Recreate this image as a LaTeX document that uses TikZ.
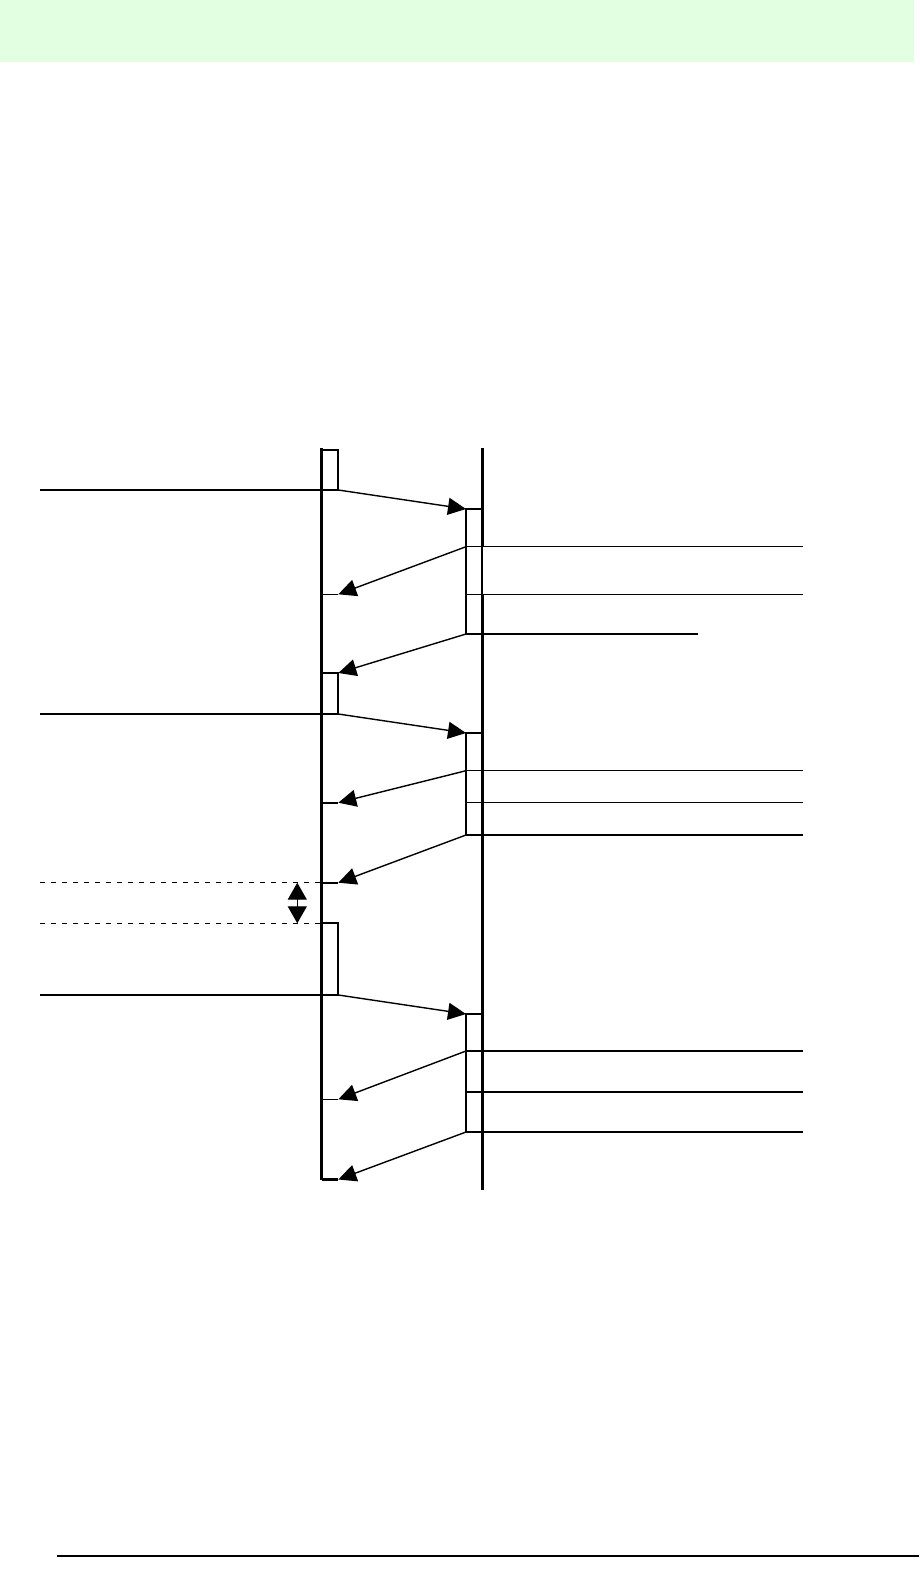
\documentclass[tikz,border=0pt]{standalone}
\usetikzlibrary{arrows.meta}
\definecolor{band}{RGB}{226,255,226}
\begin{document}
\begin{tikzpicture}[x=1pt,y=-1pt,
  thinln/.style={line width=1.4pt},
  lifeln/.style={line width=3pt},
  actbox/.style={draw,line width=1.8pt,fill=white},
  msg/.style={line width=1.4pt,-{Triangle[length=18pt,width=17pt]}},
  gapln/.style={line width=1.3pt,dash pattern=on 5pt off 6pt},
  gaparrow/.style={line width=1.3pt,{Triangle[length=17pt,width=19pt]}-{Triangle[length=17pt,width=19pt]}}]
\useasboundingbox (0,0) rectangle (919,1583);
\fill[band] (0,0) rectangle (914,62);
\coordinate (footL) at (57,1556);
\coordinate (footR) at (919,1556);
\draw[thinln] (footL) -- (footR);

% left activation boxes
\draw[actbox] (321.7,450) rectangle (338.3,490);
\draw[actbox] (321.7,673) rectangle (338.3,714);
\draw[actbox] (321.7,923.3) rectangle (338.3,995);
% right activation boxes
\draw[actbox] (466,509) rectangle (482,634);
\draw[actbox] (466,733) rectangle (482,835);
\draw[actbox] (466,1014) rectangle (482,1132);

% lifelines
\coordinate (LT) at (321.7,448);
\coordinate (LB) at (321.7,1180);
\coordinate (RT) at (482,448);
\coordinate (R1) at (482,546.7);
\coordinate (R2) at (482,594.3);
\coordinate (RB) at (482,1190);
\draw[lifeln] (LT) -- (LB);
\draw[lifeln] (RT) -- (R1);
\draw[thinln] (R1) -- (R2);
\draw[lifeln] (R2) -- (RB);

% left external lines
\foreach \y/\n in {490/a,714/b,995/c}{
  \coordinate (ext\n) at (40,\y);
  \coordinate (ll\n) at (321.7,\y);
  \draw[thinln] (ext\n) -- (ll\n);
}
% gap lines
\coordinate (g1s) at (40,882.7);
\coordinate (g1e) at (321.7,882.7);
\coordinate (g2s) at (40,923.3);
\coordinate (g2e) at (321.7,923.3);
\draw[gapln] (g1s) -- (g1e);
\draw[gapln] (g2s) -- (g2e);
\coordinate (ga) at (297.3,882.7);
\coordinate (gb) at (297.3,923.3);
\draw[gaparrow] (ga) -- (gb);

% right outgoing lines
\foreach \y/\n in {546.7/a,594.3/b,770.7/c,802.7/d,835/e,1051/f,1092/g,1132/h}{
  \coordinate (rs\n) at (466,\y);
  \coordinate (re\n) at (802.7,\y);
  \draw[thinln] (rs\n) -- (re\n);
}
\coordinate (rsx) at (466,634);
\coordinate (rex) at (697.7,634);
\draw[thinln] (rsx) -- (rex);

% message endpoints
\coordinate (m1s) at (338.3,490);   \coordinate (m1e) at (466,509);
\coordinate (m2s) at (338.3,714);   \coordinate (m2e) at (466,733);
\coordinate (m3s) at (338.3,995);   \coordinate (m3e) at (466,1014);
\coordinate (r1e) at (338.3,594.3);
\coordinate (r2e) at (338.3,673);
\coordinate (r3e) at (338.3,802.7);
\coordinate (r4e) at (338.3,882.7);
\coordinate (r5e) at (338.3,1099.3);
\coordinate (r6e) at (338.3,1179.5);

% short stubs on the left lifeline
\foreach \n/\y in {1/594.3,3/802.7,4/882.7,5/1099.3,6/1179.5}{
  \coordinate (st\n) at (321.7,\y);
}
\draw[thinln] (st1) -- (r1e);
\draw[line width=2pt] (st3) -- (r3e);
\draw[line width=2pt] (st4) -- (r4e);
\draw[thinln] (st5) -- (r5e);
\draw[line width=2.4pt] (st6) -- (r6e);

% messages
\draw[msg] (m1s) -- (m1e);
\draw[msg] (m2s) -- (m2e);
\draw[msg] (m3s) -- (m3e);
\draw[msg] (rsa) -- (r1e);
\draw[msg] (rsx) -- (r2e);
\draw[msg] (rsc) -- (r3e);
\draw[msg] (rse) -- (r4e);
\draw[msg] (rsf) -- (r5e);
\draw[msg] (rsh) -- (r6e);
\end{tikzpicture}
\end{document}
